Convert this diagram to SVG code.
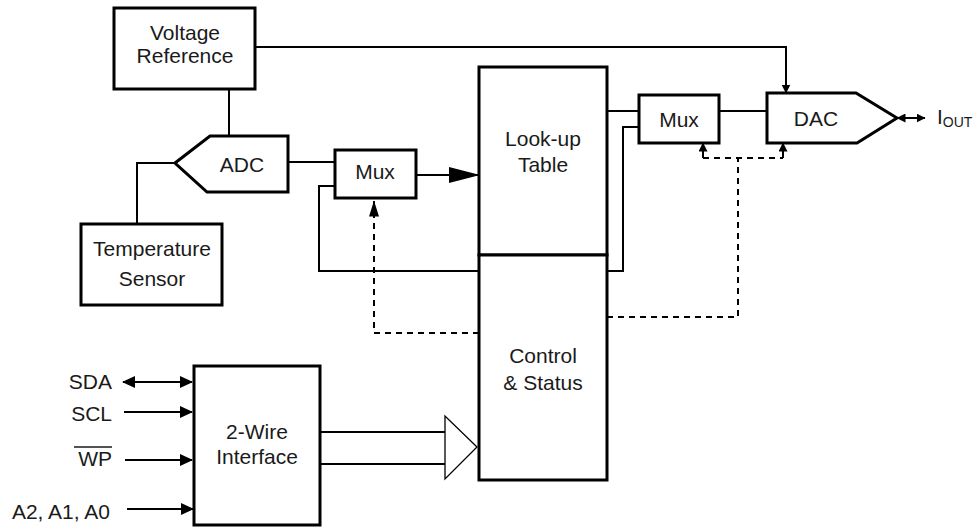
<svg xmlns="http://www.w3.org/2000/svg" width="977" height="527" viewBox="0 0 977 527">
<style>
.box{fill:#fff;stroke:#000;stroke-width:3}
.ln{fill:none;stroke:#000;stroke-width:2}
.ds{fill:none;stroke:#000;stroke-width:2;stroke-dasharray:6 5}
text{font-family:"Liberation Sans",Arial,sans-serif;font-size:21px;fill:#1a1a1a;text-anchor:middle}
text.r{text-anchor:end}
</style>
<defs>
<marker id="a" markerUnits="userSpaceOnUse" markerWidth="13" markerHeight="12" refX="12" refY="6" orient="auto-start-reverse" viewBox="0 0 13 12"><path d="M0,0 L13,6 L0,12z"/></marker>
<marker id="big" markerUnits="userSpaceOnUse" markerWidth="31" markerHeight="16" refX="30" refY="8" orient="auto" viewBox="0 0 31 16"><path d="M0,0 L31,8 L0,16z"/></marker>
<marker id="s" markerUnits="userSpaceOnUse" markerWidth="9" markerHeight="9" refX="8.5" refY="4.5" orient="auto-start-reverse" viewBox="0 0 9 9"><path d="M0,0 L9,4.5 L0,9z"/></marker>
<marker id="m" markerUnits="userSpaceOnUse" markerWidth="16" markerHeight="10" refX="15.5" refY="5" orient="auto" viewBox="0 0 16 10"><path d="M0,0 L16,5 L0,10z"/></marker>
</defs>
<g id="connectors">
<path class="ln" d="M255,47 H786 V93" marker-end="url(#s)"/>
<path class="ln" d="M229,89 V136"/>
<path class="ln" d="M137,224 V163 H175"/>
<path class="ln" d="M288,162 H335"/>
<path class="ln" d="M416,175 H479" marker-end="url(#big)"/>
<path class="ln" d="M335,186 H319 V271 H479"/>
<path class="ln" d="M607,111 H639"/>
<path class="ln" d="M607,271 H623 V127 H639"/>
<path class="ln" d="M719,111 H767"/>
<path class="ln" d="M897,118 H925" marker-start="url(#s)" marker-end="url(#s)"/>
<path class="ds" d="M479,333 H374 V201" marker-end="url(#m)"/>
<path class="ds" d="M607,317 H738 V158"/>
<path class="ds" d="M703,158 H783"/>
<path class="ln" d="M703,158 V143" marker-end="url(#s)"/>
<path class="ln" d="M783,158 V143" marker-end="url(#s)"/>
<path class="ln" d="M123,382 H192" marker-start="url(#a)" marker-end="url(#a)"/>
<path class="ln" d="M124,412 H192" marker-end="url(#a)"/>
<path class="ln" d="M125,460 H192" marker-end="url(#a)"/>
<path class="ln" d="M127,509 H193" marker-end="url(#a)"/>
<path class="ln" d="M320,432 H445 M320,464 H445"/>
<polygon points="445,432 445,416 477,447 445,479 445,464" fill="#fff" stroke="#000" stroke-width="1.3"/>
</g>
<g id="voltage-reference">
<rect class="box" x="114" y="8" width="141" height="81"/>
<text x="185" y="40">Voltage</text>
<text x="185" y="63">Reference</text>
</g>
<g id="adc">
<polygon class="box" points="175,163 210,136 288,136 288,192 207,192"/>
<text x="242" y="172">ADC</text>
</g>
<g id="temperature-sensor">
<rect class="box" x="81" y="224" width="141" height="81"/>
<text x="152" y="256">Temperature</text>
<text x="152" y="286">Sensor</text>
</g>
<g id="mux1">
<rect class="box" x="335" y="150" width="81" height="48"/>
<text x="375" y="179">Mux</text>
</g>
<g id="lookup-table">
<rect class="box" x="479" y="67" width="128" height="188"/>
<text x="543" y="146">Look-up</text>
<text x="543" y="172">Table</text>
</g>
<g id="control-status">
<rect class="box" x="479" y="255" width="128" height="225"/>
<text x="543" y="363">Control</text>
<text x="543" y="390">&amp; Status</text>
</g>
<g id="mux2">
<rect class="box" x="639" y="95" width="80" height="48"/>
<text x="679" y="127">Mux</text>
</g>
<g id="dac">
<polygon class="box" points="767,93 856,93 897,118 857,143 767,143"/>
<text x="816" y="126">DAC</text>
</g>
<g id="iout">
<text x="937" y="124" style="text-anchor:start">I<tspan font-size="14" dy="3">OUT</tspan></text>
</g>
<g id="two-wire-interface">
<rect class="box" x="194" y="366" width="126" height="159"/>
<text x="257" y="439">2-Wire</text>
<text x="257" y="464">Interface</text>
</g>
<g id="signals">
<text class="r" x="112" y="389">SDA</text>
<text class="r" x="112" y="421">SCL</text>
<text class="r" x="112" y="466">WP</text>
<line x1="74" y1="447" x2="112" y2="447" stroke="#1a1a1a" stroke-width="1.5"/>
<text class="r" x="110" y="519">A2, A1, A0</text>
</g>
</svg>
